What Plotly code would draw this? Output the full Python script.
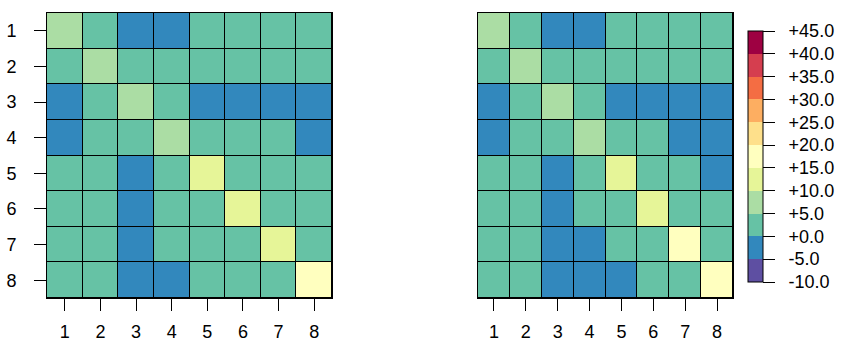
import plotly.graph_objects as go

# ---- data ----
labels = [1, 2, 3, 4, 5, 6, 7, 8]
left_values = [
    [7, 2, -2, -2, 2, 2, 2, 2],
    [2, 7, 2, 2, 2, 2, 2, 2],
    [-2, 2, 7, 2, -2, -2, -2, -2],
    [-2, 2, 2, 7, 2, 2, 2, -2],
    [2, 2, -2, 2, 12, 2, 2, 2],
    [2, 2, -2, 2, 2, 12, 2, 2],
    [2, 2, -2, 2, 2, 2, 12, 2],
    [2, 2, -2, -2, 2, 2, 2, 17],
]
right_values = [
    [7, 2, -2, -2, 2, 2, 2, 2],
    [2, 7, 2, 2, 2, 2, 2, 2],
    [-2, 2, 7, 2, -2, -2, -2, -2],
    [-2, 2, 2, 7, 2, 2, -2, -2],
    [2, 2, -2, 2, 12, 2, 2, -2],
    [2, 2, -2, 2, 2, 12, 2, 2],
    [2, 2, -2, -2, 2, 2, 17, 2],
    [2, 2, -2, -2, -2, 2, 2, 17],
]
bar_ticks = [-10, -5, 0, 5, 10, 15, 20, 25, 30, 35, 40, 45]
bar_ticktext = ["-10.0", "-5.0", "+0.0", "+5.0", "+10.0", "+15.0", "+20.0",
                "+25.0", "+30.0", "+35.0", "+40.0", "+45.0"]
palette = ["#5E4FA2", "#3288BD", "#66C2A5", "#ABDDA4", "#E6F598", "#FFFFBF",
           "#FEE08B", "#FDAE61", "#F46D43", "#D53E4F", "#9E0142"]

zmin, zmax = -10, 45
n = len(palette)
colorscale = []
for i, c in enumerate(palette):
    colorscale.append([i / n, c])
    colorscale.append([(i + 1) / n, c])

W, H = 842, 343
ML, MR, MT, MB = 47, W - 733, 13, H - 298
PW, PH = W - ML - MR, H - MT - MB
FONT = "Liberation Sans, Arial, sans-serif"
NB = "\u00a0\u00a0"

fig = go.Figure()
fig.add_trace(go.Heatmap(
    z=left_values, x=labels, y=labels, colorscale=colorscale, zmin=zmin, zmax=zmax,
    xgap=1, ygap=1, showscale=False, xaxis="x", yaxis="y", hoverinfo="z"))
fig.add_trace(go.Heatmap(
    z=right_values, x=labels, y=labels, colorscale=colorscale, zmin=zmin, zmax=zmax,
    xgap=1, ygap=1, xaxis="x2", yaxis="y2", hoverinfo="z",
    colorbar=dict(
        x=(748 - ML) / PW, xanchor="left", xref="paper", xpad=0, ypad=0,
        y=(298 - 156.5) / PH, yanchor="middle", yref="paper",
        len=251 / PH, lenmode="fraction",
        thickness=15, thicknessmode="pixels",
        outlinecolor="black", outlinewidth=1,
        tickmode="array", tickvals=bar_ticks, ticktext=[NB + t for t in bar_ticktext],
        ticks="outside", ticklen=12, tickcolor="black", tickwidth=1,
        tickfont=dict(family=FONT, size=18, color="black"),
    )))

def xax(dom):
    return dict(domain=dom, range=[0.5, 8.5], tickmode="array", tickvals=labels,
                ticktext=[str(v) for v in labels], ticks="outside", ticklen=12,
                tickcolor="black", showline=True, linecolor="black", linewidth=1,
                mirror=True, showgrid=False, zeroline=False, ticklabelstandoff=5,
                automargin=False, fixedrange=True,
                tickfont=dict(family=FONT, size=18, color="black"))

def yax(show_labels):
    d = dict(domain=[0, 1], range=[8.5, 0.5], tickmode="array",
             tickvals=labels, ticktext=[str(v) for v in labels],
             showline=True, linecolor="black", linewidth=1, mirror=True,
             showgrid=False, zeroline=False, automargin=False, fixedrange=True,
             tickfont=dict(family=FONT, size=18, color="black"))
    if show_labels:
        d.update(ticks="outside", ticklen=12, tickcolor="black", ticklabelstandoff=14)
    else:
        d.update(showticklabels=False, ticks="")
    return d

fig.update_layout(
    width=W, height=H, margin=dict(l=ML, r=MR, t=MT, b=MB, autoexpand=False),
    paper_bgcolor="white", plot_bgcolor="black",
    xaxis=xax([0, 285 / PW]), yaxis=yax(True),
    xaxis2=dict(xax([(478 - ML) / PW, 1]), anchor="y2"),
    yaxis2=dict(yax(False), anchor="x2"),
)
fig.write_html("out.html", config={"displayModeBar": False},
               post_script="document.body.style.margin='0';document.body.style.overflow='hidden';")
